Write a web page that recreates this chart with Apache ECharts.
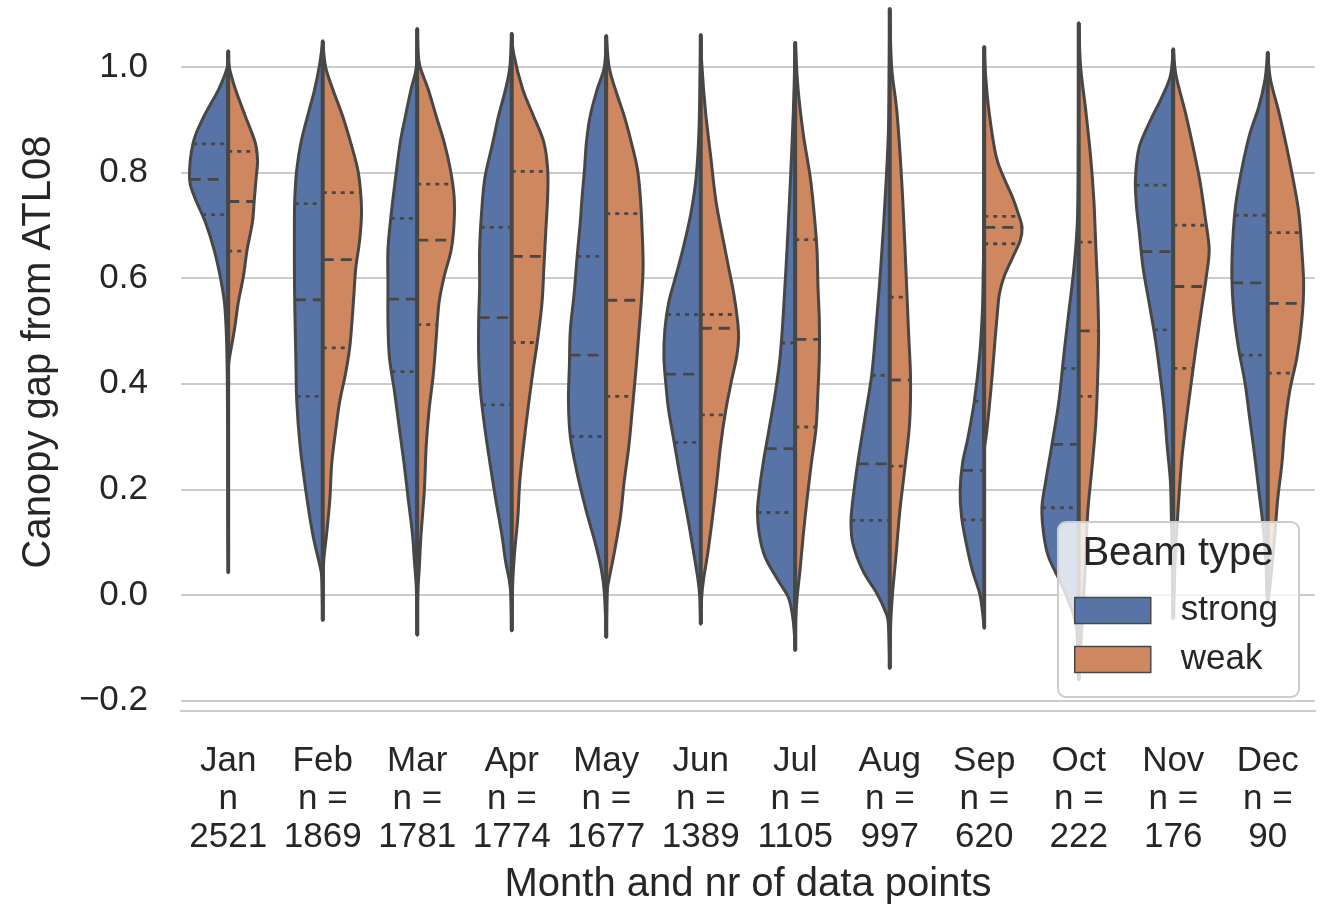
<!DOCTYPE html>
<html>
<head>
<meta charset="utf-8">
<script src="https://cdn.jsdelivr.net/npm/echarts@6/dist/echarts.min.js"></script>
<style>
  html, body { margin: 0; padding: 0; background: #ffffff; }
  #chart { width: 1329px; height: 910px; }
</style>
</head>
<body>
<div id="chart"></div>
<script>
// Categories and point counts
const months = ['Jan', 'Feb', 'Mar', 'Apr', 'May', 'Jun', 'Jul', 'Aug', 'Sep', 'Oct', 'Nov', 'Dec'];
const nLabels = ['n', 'n =', 'n =', 'n =', 'n =', 'n =', 'n =', 'n =', 'n =', 'n =', 'n =', 'n ='];
const counts = [2521, 1869, 1781, 1774, 1677, 1389, 1105, 997, 620, 222, 176, 90];

const beamTypes = ['strong', 'weak'];

// Kernel density outlines per month: [canopy gap, half-width in % of the category band]
const strongShapes = [
  [[1.030,0],[1.000,1],[0.958,10],[0.907,25.5],[0.857,37],[0.789,41],[0.755,36],[0.705,24],[0.654,15],[0.603,8.5],[0.553,4],[0.494,2],[0.409,1],[0.300,0.6],[0.150,0.5],[0.042,0]],
  [[1.049,0],[1.008,3],[0.958,8.5],[0.907,16],[0.857,23],[0.806,27.5],[0.755,29.5],[0.705,30],[0.620,30],[0.536,29.5],[0.451,28.5],[0.367,27.5],[0.283,24],[0.198,18],[0.114,10.5],[0.055,3],[0.030,1],[-0.048,0]],
  [[1.072,0],[1.000,1],[0.958,6.5],[0.907,12.5],[0.857,18],[0.789,23],[0.722,27.5],[0.654,31],[0.586,31],[0.519,31],[0.451,29.5],[0.384,24],[0.316,19],[0.249,14],[0.181,9.5],[0.114,5],[0.063,3],[0.013,1],[-0.076,0]],
  [[1.063,0],[1.000,2],[0.958,6.5],[0.907,14],[0.857,20],[0.789,28.5],[0.722,32],[0.654,34],[0.586,34],[0.519,35],[0.451,35],[0.384,33],[0.316,28.5],[0.249,23],[0.181,17],[0.114,10.5],[0.063,6.5],[0.013,1.5],[-0.068,0]],
  [[1.059,0],[1.000,2],[0.958,9.5],[0.907,17],[0.857,21],[0.806,23],[0.755,25.5],[0.705,27.5],[0.637,31],[0.570,34],[0.502,38],[0.435,39],[0.367,40],[0.300,38],[0.232,31],[0.165,22],[0.097,11.5],[0.046,5],[0.004,2],[-0.080,0]],
  [[1.061,0],[1.000,0.5],[0.873,2],[0.789,5],[0.722,10.5],[0.654,19],[0.603,26.5],[0.553,34],[0.502,38],[0.451,39],[0.401,37],[0.350,34],[0.283,27.5],[0.215,21],[0.148,14],[0.080,7.5],[0.030,3],[-0.004,1],[-0.055,0]],
  [[1.046,0],[0.916,2],[0.789,5],[0.662,8.5],[0.536,12.5],[0.451,16],[0.384,21],[0.316,27.5],[0.249,34],[0.198,38],[0.156,40],[0.114,38],[0.072,32],[0.030,19],[-0.004,7.5],[-0.038,3],[-0.072,1],[-0.105,0]],
  [[1.110,0],[1.000,0.5],[0.873,1.5],[0.747,5],[0.620,9.5],[0.519,14],[0.418,19],[0.333,26.5],[0.249,34],[0.181,39],[0.139,41],[0.097,39],[0.046,28.5],[0.004,14],[-0.030,5],[-0.055,1.5],[-0.139,0]],
  [[1.038,0],[0.700,0.5],[0.620,1],[0.536,2],[0.451,5],[0.367,10.5],[0.300,17],[0.249,23],[0.198,25.5],[0.148,24],[0.097,19],[0.046,12.5],[0.004,5],[-0.030,2],[-0.063,0]],
  [[1.083,0],[0.800,0.5],[0.705,1.5],[0.620,5],[0.536,10.5],[0.451,16],[0.367,21],[0.283,28.5],[0.215,35],[0.165,39],[0.114,37],[0.072,32],[0.030,21],[-0.013,10.5],[-0.055,3],[-0.100,1],[-0.160,0]],
  [[1.034,0],[0.983,3],[0.941,12.5],[0.899,24],[0.848,36],[0.789,40],[0.738,39],[0.688,36],[0.620,32],[0.553,25.5],[0.485,19],[0.418,14],[0.350,9.5],[0.283,6.5],[0.215,3],[0.148,2],[0.072,1],[-0.045,0]],
  [[1.027,0],[0.975,3],[0.924,9.5],[0.873,19],[0.806,27.5],[0.738,34],[0.671,37],[0.603,38],[0.536,36],[0.468,31],[0.401,24],[0.333,19],[0.266,14],[0.198,9.5],[0.131,5],[0.063,2],[0.004,1],[-0.010,0]]
];

const weakShapes = [
  [[1.030,0],[1.000,1],[0.958,7.5],[0.907,18],[0.857,28.5],[0.823,31],[0.789,29.5],[0.747,27.5],[0.705,25.5],[0.654,20],[0.603,16],[0.553,10.5],[0.502,6.5],[0.451,1.5],[0.435,0]],
  [[1.049,0],[1.000,3],[0.958,10.5],[0.907,21],[0.857,29.5],[0.806,37],[0.764,40],[0.722,41],[0.671,39],[0.620,35],[0.570,33],[0.519,31],[0.468,28.5],[0.418,24],[0.367,18],[0.316,14],[0.249,9.5],[0.181,7.5],[0.114,4],[0.063,1],[0.000,0.3],[-0.048,0]],
  [[1.072,0],[1.008,2],[0.958,11.5],[0.907,20],[0.857,28.5],[0.806,35],[0.755,39],[0.705,39],[0.654,36],[0.603,28.5],[0.553,23],[0.485,20],[0.418,17],[0.350,12.5],[0.283,9.5],[0.198,7.5],[0.114,4],[0.046,2],[0.004,0.5],[-0.076,0]],
  [[1.063,0],[1.025,2],[0.958,11.5],[0.907,23],[0.857,34],[0.806,38],[0.755,38],[0.688,36],[0.620,34],[0.553,32],[0.485,27.5],[0.418,22],[0.350,17],[0.283,12.5],[0.215,8.5],[0.148,6.5],[0.080,3],[0.021,1],[-0.068,0]],
  [[1.059,0],[1.000,3],[0.958,9.5],[0.907,19],[0.857,26.5],[0.806,33],[0.755,36],[0.688,38],[0.620,39],[0.553,37],[0.485,34],[0.418,31],[0.350,27.5],[0.283,24],[0.215,19],[0.148,15],[0.080,8.5],[0.030,3],[0.004,1],[-0.080,0]],
  [[1.061,0],[1.008,1],[0.916,5],[0.831,10.5],[0.747,16],[0.679,23],[0.620,29.5],[0.570,35],[0.519,39],[0.485,40],[0.451,38],[0.401,32],[0.350,26.5],[0.283,21],[0.215,17],[0.148,12.5],[0.080,7.5],[0.030,3],[-0.004,1],[-0.055,0]],
  [[1.046,0],[0.958,3],[0.873,8.5],[0.789,16],[0.722,20],[0.654,23],[0.586,24],[0.519,25.5],[0.451,25.5],[0.384,24],[0.316,22],[0.249,17],[0.181,12.5],[0.114,8.5],[0.046,5],[-0.004,2],[-0.046,0.5],[-0.105,0]],
  [[1.110,0],[1.000,2],[0.916,7.5],[0.789,12.5],[0.662,16],[0.578,18],[0.494,20],[0.409,22],[0.325,21],[0.241,16],[0.156,10.5],[0.072,6.5],[0.004,3],[-0.055,1],[-0.139,0]],
  [[1.038,0],[0.983,1.5],[0.916,5],[0.831,12.5],[0.789,21],[0.755,29.5],[0.722,36],[0.696,40],[0.671,38],[0.637,29.5],[0.603,21],[0.570,16],[0.536,14],[0.485,11.5],[0.418,8.5],[0.350,5],[0.300,2],[0.280,0]],
  [[1.083,0],[1.000,2],[0.916,7.5],[0.831,12.5],[0.747,16],[0.662,18],[0.578,20],[0.494,21],[0.409,20],[0.325,18],[0.241,14],[0.156,9.5],[0.072,7.5],[-0.013,5],[-0.100,2],[-0.160,0]],
  [[1.034,0],[0.983,3],[0.916,12.5],[0.848,21],[0.781,28.5],[0.713,34],[0.654,38],[0.603,35],[0.536,29.5],[0.468,24],[0.401,19],[0.333,14],[0.266,9.5],[0.198,6.5],[0.131,4],[0.063,2],[0.004,1],[-0.045,0]],
  [[1.027,0],[0.975,3],[0.916,11.5],[0.848,20],[0.781,27.5],[0.722,33],[0.654,36],[0.586,38],[0.519,36],[0.451,31],[0.384,23],[0.316,18],[0.249,15],[0.181,10.5],[0.114,7.5],[0.046,4],[-0.004,1],[-0.010,0]]
];

// [Q1, median, Q3] per month
const strongQuartiles = [
  [0.720,0.787,0.854],[0.376,0.559,0.741],[0.423,0.560,0.713],[0.360,0.525,0.696],
  [0.300,0.454,0.641],[0.289,0.418,0.531],[0.156,0.277,0.477],[0.141,0.248,0.416],
  [0.142,0.236,0.367],[0.165,0.285,0.429],[0.502,0.650,0.776],[0.454,0.591,0.719]
];
const weakQuartiles = [
  [0.651,0.745,0.840],[0.468,0.635,0.762],[0.512,0.672,0.778],[0.478,0.641,0.802],
  [0.376,0.558,0.722],[0.341,0.505,0.531],[0.318,0.484,0.673],[0.244,0.407,0.564],
  [0.665,0.696,0.717],[0.376,0.500,0.668],[0.429,0.584,0.700],[0.420,0.552,0.686]
];

const FONT = '"Liberation Sans", Arial, Helvetica, sans-serif';
const TEXT = '#262626';
const EDGE = '#474747';
const GRID = '#cccccc';
const COLORS = ['#5874A6', '#CF8760'];

// Half-width of an outline at a given value (linear between outline points)
function widthAt(shape, v) {
  for (let i = 0; i < shape.length - 1; i++) {
    const a = shape[i], b = shape[i + 1];
    if (v <= a[0] && v >= b[0]) {
      const t = (a[0] - v) / (a[0] - b[0] || 1);
      return a[1] + (b[1] - a[1]) * t;
    }
  }
  return 0;
}

// Smooth closed outline through pixel points (Catmull-Rom -> cubic Bezier), kept on one side of the centre
function outlinePath(pts, cx, side) {
  const clampX = x => side < 0 ? Math.min(x, cx) : Math.max(x, cx);
  let d = 'M' + pts[0][0] + ',' + pts[0][1];
  for (let i = 0; i < pts.length - 1; i++) {
    const p0 = pts[i - 1] || pts[i], p1 = pts[i], p2 = pts[i + 1], p3 = pts[i + 2] || pts[i + 1];
    const c1x = clampX(p1[0] + (p2[0] - p0[0]) / 6), c1y = p1[1] + (p2[1] - p0[1]) / 6;
    const c2x = clampX(p2[0] - (p3[0] - p1[0]) / 6), c2y = p2[1] - (p3[1] - p1[1]) / 6;
    d += ' C' + c1x + ',' + c1y + ' ' + c2x + ',' + c2y + ' ' + p2[0] + ',' + p2[1];
  }
  return d + ' Z';
}

function makeRenderer(shapes, quartiles, side, color) {
  return function (params, api) {
    const idx = api.value(0);
    const shape = shapes[idx];
    const cx = api.coord([idx, 0])[0];
    const band = api.size([1, 0])[0];
    const toPx = (v, w) => [cx + side * w / 100 * band, api.coord([idx, v])[1]];
    const pts = shape.map(p => toPx(p[0], p[1]));
    const children = [{
      type: 'path',
      shape: { pathData: outlinePath(pts, cx, side) },
      style: { fill: color, stroke: EDGE, lineWidth: 3, lineJoin: 'round' }
    }];
    quartiles[idx].forEach((q, k) => {
      const w = widthAt(shape, q);
      const y = api.coord([idx, q])[1];
      const xOut = cx + side * w / 100 * band;
      children.push({
        type: 'line',
        shape: { x1: Math.min(cx, xOut), y1: y, x2: Math.max(cx, xOut), y2: y },
        style: { stroke: EDGE, lineWidth: 2.8, lineDash: k === 1 ? [11, 7] : [4, 5] }
      });
    });
    const top = api.coord([idx, shape[0][0]])[1];
    const bottom = api.coord([idx, shape[shape.length - 1][0]])[1];
    children.push({
      type: 'line',
      shape: { x1: cx, y1: top, x2: cx, y2: bottom },
      style: { stroke: EDGE, lineWidth: 3.8, lineCap: 'butt' }
    });
    return { type: 'group', children };
  };
}

const chart = echarts.init(document.getElementById('chart'), null, { renderer: 'canvas' });

const option = {
  backgroundColor: '#ffffff',
  animation: false,
  textStyle: { fontFamily: FONT },
  grid: { left: 181, right: 14, top: 3.5, bottom: 208.2, containLabel: false },
  xAxis: {
    type: 'category',
    data: months.map((m, i) => m + '\n' + nLabels[i] + '\n' + counts[i]),
    boundaryGap: true,
    offset: 10.5,
    axisLine: { show: true, onZero: false, lineStyle: { color: GRID, width: 2.2 } },
    axisTick: { show: false },
    splitLine: { show: false },
    axisLabel: { interval: 0, fontSize: 35, lineHeight: 38, color: TEXT, margin: 31, fontFamily: FONT },
    name: 'Month and nr of data points',
    nameLocation: 'middle',
    nameGap: 154,
    nameTextStyle: { fontSize: 40, color: TEXT, fontFamily: FONT }
  },
  yAxis: {
    type: 'value',
    min: -0.2,
    max: 1.12,
    interval: 0.2,
    axisLine: { show: false },
    axisTick: { show: false },
    splitLine: { show: true, showMaxLine: false, lineStyle: { color: GRID, width: 2.2 } },
    axisLabel: {
      showMaxLabel: false,
      fontSize: 35, color: TEXT, margin: 33, fontFamily: FONT,
      formatter: v => v.toFixed(1).replace('-', '\u2212')
    },
    name: 'Canopy gap from ATL08',
    nameLocation: 'middle',
    nameGap: 122,
    nameTextStyle: { fontSize: 40, color: TEXT, fontFamily: FONT }
  },
  legend: {
    orient: 'vertical',
    left: 1058, top: 522,
    padding: [71, 21, 20, 16],
    itemWidth: 76, itemHeight: 26, itemGap: 14,
    icon: 'rect',
    backgroundColor: 'rgba(255,255,255,0.8)',
    borderColor: GRID, borderWidth: 2, borderRadius: 8,
    textStyle: { fontSize: 35, color: TEXT, lineHeight: 26, padding: [0, 0, 0, 25], fontFamily: FONT },
    itemStyle: { borderColor: EDGE, borderWidth: 1.5 },
    data: beamTypes,
    z: 10
  },
  graphic: [{
    type: 'text',
    x: 1178, y: 554,
    z: 20,
    style: { text: 'Beam type', font: '40px ' + FONT, fill: TEXT, align: 'center', verticalAlign: 'middle' }
  }],
  series: [
    {
      name: beamTypes[0],
      type: 'custom',
      renderItem: makeRenderer(strongShapes, strongQuartiles, -1, COLORS[0]),
      itemStyle: { color: COLORS[0] },
      encode: { x: 0, y: 1 },
      clip: false,
      data: months.map((m, i) => [i, strongQuartiles[i][1]])
    },
    {
      name: beamTypes[1],
      type: 'custom',
      renderItem: makeRenderer(weakShapes, weakQuartiles, 1, COLORS[1]),
      itemStyle: { color: COLORS[1] },
      encode: { x: 0, y: 1 },
      clip: false,
      data: months.map((m, i) => [i, weakQuartiles[i][1]])
    }
  ]
};

chart.setOption(option);
</script>
</body>
</html>
